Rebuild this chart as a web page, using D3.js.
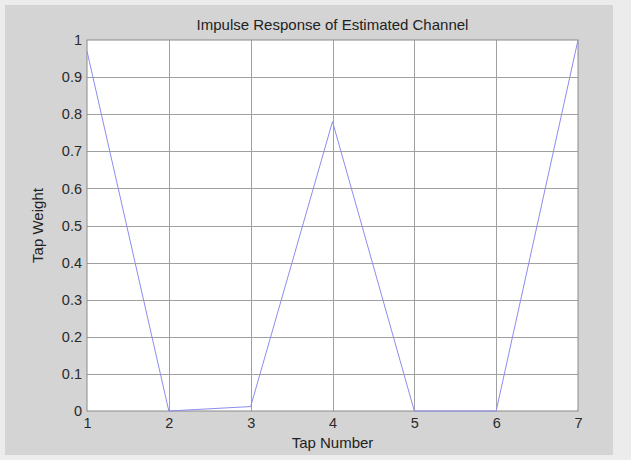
<!DOCTYPE html>
<html>
<head>
<meta charset="utf-8">
<script src="https://cdn.jsdelivr.net/npm/d3@7"></script>
<style>
  html, body { margin: 0; padding: 0; background: #ececec; }
  svg { display: block; }
  text { font-family: "Liberation Sans", Arial, sans-serif; fill: #222; }
</style>
</head>
<body>
<svg id="chart" width="631" height="460"></svg>
<script>
// Estimated channel tap weights
const taps = [1, 2, 3, 4, 5, 6, 7];
const weights = [0.97, 0.0, 0.012, 0.78, 0.0, 0.0, 1.0];
const yTicks = [0, 0.1, 0.2, 0.3, 0.4, 0.5, 0.6, 0.7, 0.8, 0.9, 1];
const xTicks = [1, 2, 3, 4, 5, 6, 7];

const svg = d3.select("#chart");
const W = 631, H = 460;
const m = { left: 87, right: 53, top: 40, bottom: 49 };

// figure background
svg.append("rect")
  .attr("x", 5).attr("y", 5).attr("width", 608).attr("height", 450)
  .attr("fill", "#d4d4d4");

const x = d3.scaleLinear().domain([1, 7]).range([m.left, W - m.right]);
const y = d3.scaleLinear().domain([0, 1]).range([H - m.bottom, m.top]);

// axes background
svg.append("rect")
  .attr("x", x(1)).attr("y", y(1))
  .attr("width", x(7) - x(1)).attr("height", y(0) - y(1))
  .attr("fill", "#ffffff");

// grid
const grid = svg.append("g").attr("stroke", "#a0a0a0").attr("stroke-width", 1);
grid.selectAll(".gx").data(xTicks.slice(1, -1)).join("line")
  .attr("x1", d => Math.round(x(d)) + 0.5).attr("x2", d => Math.round(x(d)) + 0.5)
  .attr("y1", y(1)).attr("y2", y(0));
grid.selectAll(".gy").data(yTicks.slice(1, -1)).join("line")
  .attr("y1", d => Math.round(y(d)) + 0.5).attr("y2", d => Math.round(y(d)) + 0.5)
  .attr("x1", x(1)).attr("x2", x(7));

// axes
const xAxis = d3.axisBottom(x).tickValues(xTicks).tickSize(0).tickPadding(7)
  .tickFormat(d3.format("d"));
const yAxis = d3.axisLeft(y).tickValues(yTicks).tickSize(0).tickPadding(5)
  .tickFormat(d => d === 0 || d === 1 ? d3.format("d")(d) : d3.format(".1f")(d));

const gx = svg.append("g").attr("transform", `translate(0,${y(0)})`).call(xAxis);
const gy = svg.append("g").attr("transform", `translate(${x(1)},0)`).call(yAxis);
[gx, gy].forEach(g => {
  g.select(".domain").remove();
  g.selectAll("text").attr("font-size", 14.5).style("fill", "#2a2a2a")
    .attr("font-family", "Liberation Sans, Arial, sans-serif");
});

// box
svg.append("rect")
  .attr("x", x(1)).attr("y", y(1))
  .attr("width", x(7) - x(1)).attr("height", y(0) - y(1))
  .attr("fill", "none").attr("stroke", "#8a8a8a").attr("stroke-width", 1);

// response line
const line = d3.line().x((d, i) => x(taps[i])).y(d => y(d));
svg.append("path")
  .datum(weights)
  .attr("d", line)
  .attr("fill", "none")
  .attr("stroke", "#8c8cf0")
  .attr("stroke-width", 1);

// labels
svg.append("text")
  .attr("x", (x(1) + x(7)) / 2).attr("y", 30)
  .attr("text-anchor", "middle").attr("font-size", 15)
  .text("Impulse Response of Estimated Channel");

svg.append("text")
  .attr("x", (x(1) + x(7)) / 2).attr("y", 448)
  .attr("text-anchor", "middle").attr("font-size", 15)
  .text("Tap Number");

svg.append("text")
  .attr("transform", `translate(43,${(y(0) + y(1)) / 2}) rotate(-90)`)
  .attr("text-anchor", "middle").attr("font-size", 15)
  .text("Tap Weight");
</script>
</body>
</html>
